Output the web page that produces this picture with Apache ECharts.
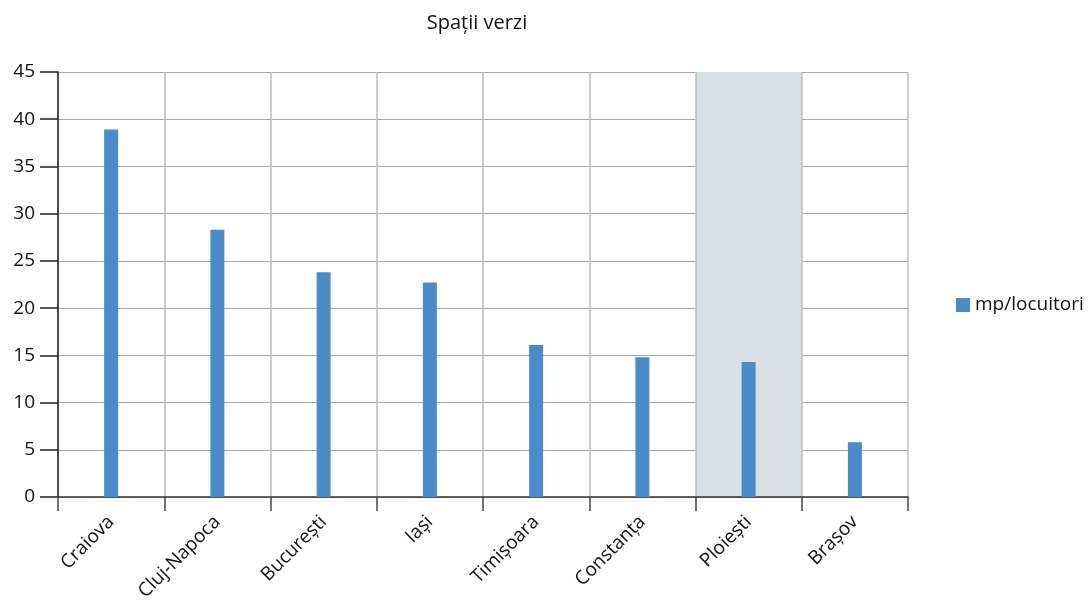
<!DOCTYPE html>
<html>
<head>
<meta charset="utf-8">
<script src="https://cdn.jsdelivr.net/npm/echarts@6/dist/echarts.min.js"></script>
<style>
  html, body { margin: 0; padding: 0; background: #fff; }
  #chart { width: 1091px; height: 610px; }
</style>
</head>
<body>
<div id="chart"></div>
<script>
const cities = ['Craiova', 'Cluj-Napoca', 'București', 'Iași', 'Timișoara', 'Constanța', 'Ploiești', 'Brașov'];
const greenSpace = [38.9, 28.3, 23.8, 22.7, 16.1, 14.8, 14.3, 5.8];
// column that gets the grey background band
const highlighted = 'Ploiești';

let chart = echarts.init(document.getElementById('chart'));

// split area colours, one per category band
let bandColors = cities.map(function (c) {
    return c === highlighted ? '#d9e1e4' : 'rgba(0,0,0,0)';
});

chart.setOption({
    animation: false,
    textStyle: {fontFamily: 'Open Sans'},
    title: {
        text: 'Spații verzi',
        left: 472,
        top: 8,
        textAlign: 'center',
        textStyle: {fontSize: 20, fontWeight: 'normal', color: '#111', fontFamily: 'Open Sans'}
    },
    legend: {
        data: ['mp/locuitori'],
        orient: 'vertical',
        left: 951,
        top: 'middle',
        icon: 'rect',
        itemWidth: 14,
        itemHeight: 14,
        itemGap: 6,
        textStyle: {fontSize: 19, color: '#111'}
    },
    grid: {
        left: 58,
        right: 183,
        top: 72,
        bottom: 113,
        containLabel: false
    },
    xAxis: {
        type: 'category',
        data: cities,
        axisLine: {lineStyle: {color: '#333', width: 1.5}},
        axisTick: {show: true, length: 14, lineStyle: {color: '#444', width: 1.5}},
        axisLabel: {
            rotate: 45,
            fontSize: 19,
            color: '#111',
            margin: 22
        },
        splitLine: {show: true, lineStyle: {color: '#bdbdbd', width: 1.5}},
        splitArea: {show: true, areaStyle: {color: bandColors}}
    },
    yAxis: {
        type: 'value',
        min: 0,
        max: 45,
        interval: 5,
        axisLine: {show: true, lineStyle: {color: '#222', width: 1.5}},
        axisTick: {show: true, length: 18, lineStyle: {color: '#222', width: 1.5}},
        axisLabel: {fontSize: 19, color: '#111', margin: 23},
        splitLine: {lineStyle: {color: '#a8a8a8', width: 1.2}}
    },
    series: [
        {
            name: 'mp/locuitori',
            type: 'bar',
            data: greenSpace,
            barWidth: 14,
            itemStyle: {color: '#4a8bc9'}
        }
    ]
});
</script>
</body>
</html>
